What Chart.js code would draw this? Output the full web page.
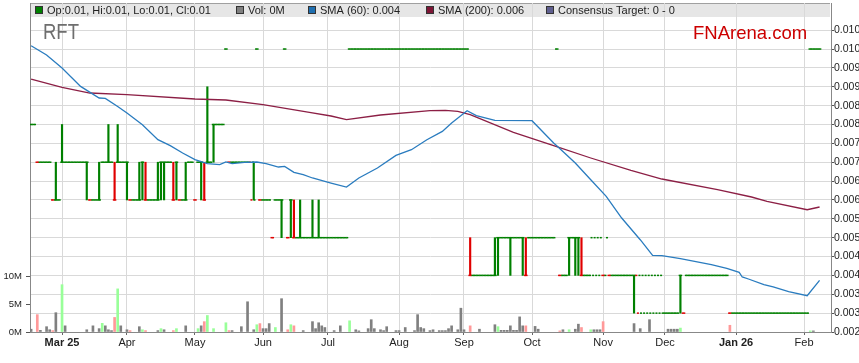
<!DOCTYPE html>
<html>
<head>
<meta charset="utf-8">
<script src="https://cdn.jsdelivr.net/npm/chart.js@4.4.1/dist/chart.umd.min.js"></script>
<style>
  html, body { margin: 0; padding: 0; background: #fff; overflow: hidden; }
  canvas { display: block; }
</style>
</head>
<body>
<canvas id="chart" width="880" height="363"></canvas>
<script>
// one slot per weekday, Mon 17 Feb 2025 .. Mon 9 Feb 2026
const monthIdx = [10, 31, 53, 75, 96, 119, 140, 162, 185, 205, 228, 250];
const monthLabels = ['Mar 25', 'Apr', 'May', 'Jun', 'Jul', 'Aug', 'Sep', 'Oct', 'Nov', 'Dec', 'Jan 26', 'Feb'];

const close = [
  0.008, 0.008, 0.007, 0.007, 0.007, 0.007, 0.007, 0.006, 0.006, 0.006,
  0.007, 0.007, 0.007, 0.007, 0.007, 0.007, 0.007, 0.007, 0.007, 0.006,
  0.006, 0.006, 0.006, 0.007, 0.007, 0.007, 0.007, 0.006, 0.007, 0.007,
  0.007, 0.007, 0.006, 0.006, 0.006, 0.006, 0.007, 0.006, 0.006, 0.006,
  0.006, 0.006, 0.007, 0.007, 0.007, 0.007, 0.006, 0.007, 0.006, 0.006,
  0.006, 0.007, 0.007, 0.006, 0.007, 0.007, 0.006, 0.007, 0.007, 0.008,
  0.008, 0.008, 0.008, 0.010, 0.007, 0.007, 0.007, 0.007, 0.007, 0.007,
  0.007, 0.006, 0.006, 0.010, 0.006, 0.006, 0.006, 0.006, 0.005, 0.006,
  0.006, 0.006, 0.010, 0.005, 0.006, 0.005, 0.005, 0.005, 0.005, 0.005,
  0.005, 0.005, 0.005, 0.005, 0.005, 0.005, 0.005, 0.005, 0.005, 0.005,
  0.005, 0.005, 0.005, 0.010, 0.010, 0.010, 0.010, 0.010, 0.010, 0.010,
  0.010, 0.010, 0.010, 0.010, 0.010, 0.010, 0.010, 0.010, 0.010, 0.010,
  0.010, 0.010, 0.010, 0.010, 0.010, 0.010, 0.010, 0.010, 0.010, 0.010,
  0.010, 0.010, 0.010, 0.010, 0.010, 0.010, 0.010, 0.010, 0.010, 0.010,
  0.010, 0.010, 0.004, 0.004, 0.004, 0.004, 0.004, 0.004, 0.004, 0.004,
  0.004, 0.005, 0.005, 0.005, 0.005, 0.005, 0.005, 0.005, 0.005, 0.005,
  0.004, 0.005, 0.005, 0.005, 0.005, 0.005, 0.005, 0.005, 0.005, 0.005,
  0.010, 0.004, 0.004, 0.004, 0.005, 0.005, 0.005, 0.005, 0.004, 0.004,
  0.004, 0.005, 0.005, 0.005, 0.005, 0.004, 0.005, 0.004, 0.004, 0.004,
  0.004, 0.004, 0.004, 0.004, 0.004, 0.004, 0.003, 0.003, 0.003, 0.003,
  0.003, 0.003, 0.003, 0.003, 0.003, 0.003, 0.003, 0.003, 0.003, 0.003,
  0.004, 0.003, 0.004, 0.004, 0.004, 0.004, 0.004, 0.004, 0.004, 0.004,
  0.004, 0.004, 0.004, 0.004, 0.004, 0.004, 0.003, 0.003, 0.003, 0.003,
  0.003, 0.003, 0.003, 0.003, 0.003, 0.003, 0.003, 0.003, 0.003, 0.003,
  0.003, 0.003, 0.003, 0.003, 0.003, 0.003, 0.003, 0.003, 0.003, 0.003,
  0.003, 0.003, 0.010, 0.010, 0.010, 0.010
];

// days whose open printed away from the close (all others opened at the close)
const openIdx = [71, 72, 181, 182, 183, 184, 186, 196, 197, 198, 199, 200, 201, 202, 203, 204];
const openVal = [0.007, 0.007, 0.004, 0.004, 0.004, 0.004, 0.004, 0.004, 0.004, 0.004, 0.004, 0.004, 0.004, 0.004, 0.004, 0.004];

// days that traded through more than one price
const rangeIdx = [8, 10, 18, 22, 25, 27, 28, 31, 35, 36, 37, 41, 42, 43, 46, 47, 50, 55, 56, 57,
  59, 72, 81, 84, 85, 87, 91, 93, 142, 150, 151, 155, 159, 160, 174, 176, 177, 178, 195, 210];
const rangeLow = [0.006, 0.007, 0.006, 0.006, 0.007, 0.006, 0.007, 0.006, 0.006, 0.006, 0.006, 0.006, 0.006, 0.006, 0.006, 0.006, 0.006, 0.006, 0.006, 0.007,
  0.007, 0.006, 0.005, 0.005, 0.005, 0.005, 0.005, 0.005, 0.004, 0.004, 0.004, 0.004, 0.004, 0.004, 0.004, 0.004, 0.004, 0.004, 0.003, 0.003];
const rangeHigh = [0.007, 0.008, 0.007, 0.007, 0.008, 0.007, 0.008, 0.007, 0.007, 0.007, 0.007, 0.007, 0.007, 0.007, 0.007, 0.007, 0.007, 0.007, 0.007, 0.009,
  0.008, 0.007, 0.006, 0.006, 0.006, 0.006, 0.006, 0.006, 0.005, 0.005, 0.005, 0.005, 0.005, 0.005, 0.005, 0.005, 0.005, 0.005, 0.004, 0.004];

// volume in millions, days with trades only
const volIdx = [0, 2, 3, 5, 6, 7, 8, 10, 11, 18, 20, 22, 23, 24, 25, 26, 27, 28, 29, 31,
  32, 35, 36, 37, 41, 42, 43, 46, 47, 50, 54, 55, 56, 57, 59, 63, 64, 65, 68, 70,
  72, 73, 74, 75, 76, 77, 79, 81, 83, 84, 85, 88, 91, 92, 93, 94, 95, 98, 100, 103,
  105, 106, 109, 110, 111, 113, 114, 115, 118, 119, 121, 124, 125, 126, 127, 129, 130, 132, 133, 134,
  135, 136, 138, 139, 140, 142, 145, 150, 151, 152, 153, 154, 155, 156, 157, 158, 159, 160, 163, 164,
  171, 172, 174, 176, 177, 178, 181, 182, 183, 184, 185, 195, 197, 200, 206, 207, 208, 209, 210, 226,
  252, 253];
const volM = [0.5, 3.1, 0.3, 0.95, 0.4, 0.25, 3.45, 8.45, 1.1, 0.4, 1.1, 0.6, 1.55, 1.1, 0.4, 0.25, 2.6, 7.7, 1.1, 0.4,
  0.25, 0.95, 0.4, 0.25, 0.25, 0.6, 0.4, 0.25, 0.6, 1.1, 0.6, 1.1, 1.85, 2.95, 0.6, 1.65, 0.25, 0.25, 0.95, 5.4,
  0.4, 1.3, 1.5, 0.6, 0.6, 1.5, 0.8, 5.95, 0.4, 1.3, 1.1, 0.25, 1.85, 0.6, 1.65, 1.1, 0.8, 0.25, 1.1, 2.0,
  0.4, 0.2, 0.6, 2.2, 0.6, 0.4, 0.25, 0.95, 0.25, 0.25, 0.8, 0.25, 3.1, 0.8, 0.6, 0.25, 0.4, 0.25, 0.25, 0.25,
  0.6, 1.1, 0.4, 4.25, 0.4, 1.1, 0.5, 1.3, 0.95, 0.3, 0.3, 0.3, 1.1, 0.3, 0.3, 2.7, 1.1, 1.1, 1.0, 0.5,
  0.2, 0.4, 0.4, 0.5, 1.4, 0.8, 0.4, 0.4, 0.4, 0.4, 1.85, 1.5, 0.6, 2.2, 0.5, 0.5, 0.5, 0.5, 0.7, 1.2,
  0.2, 0.2];

const sma60Idx = [0, 5, 10, 16, 22, 24, 28, 31, 36, 41, 45, 49, 53, 57, 61, 63, 65, 69, 73, 76,
  80, 82, 85, 88, 91, 97, 102, 106, 112, 118, 123, 128, 133, 136, 141, 144, 150, 162, 169, 170,
  176, 181, 186, 191, 197, 201, 204, 210, 220, 225, 229, 230, 232, 237, 240, 245, 251, 255];
const sma60 = [0.010088, 0.00984, 0.009497, 0.009009, 0.008702, 0.008691, 0.008479, 0.008304, 0.007994, 0.007597,
  0.007438, 0.007244, 0.007067, 0.006961, 0.006934, 0.007006, 0.006961, 0.006995, 0.007006, 0.006961,
  0.006873, 0.006889, 0.00673, 0.006669, 0.006582, 0.006449, 0.006343, 0.006582, 0.006847, 0.007181,
  0.007332, 0.007597, 0.007817, 0.008039, 0.008365, 0.008233, 0.008108, 0.0081, 0.007509, 0.007438,
  0.006979, 0.006537, 0.006094, 0.005521, 0.004946, 0.00453, 0.004522, 0.004443, 0.004284, 0.004186,
  0.00408, 0.003958, 0.003905, 0.003754, 0.003693, 0.003568, 0.003462, 0.003868];

const sma200Idx = [0, 10, 19, 31, 53, 63, 75, 90, 97, 102, 113, 129, 134, 138, 142, 156, 169, 181, 194, 204,
  222, 233, 238, 251, 255];
const sma200 = [0.009205, 0.008983, 0.008834, 0.008789, 0.008675, 0.008649, 0.008524, 0.00832, 0.008225, 0.008127,
  0.008251, 0.008365, 0.008373, 0.008347, 0.008259, 0.00779, 0.007438, 0.007112, 0.006783, 0.006555,
  0.006272, 0.006078, 0.005961, 0.005741, 0.005813];

const priceTicks = [0.0025, 0.003, 0.0035, 0.004, 0.0045, 0.005, 0.0055, 0.006, 0.0065,
  0.007, 0.0075, 0.008, 0.0085, 0.009, 0.0095, 0.010, 0.0105];
const volTicks = [0, 5, 10];

const FONT = '"Liberation Sans", Arial, sans-serif';
const GREEN = '#008000';
const RED = '#e00000';
const BLUE = '#2a7cbf';
const MAROON = '#8c1f45';

const last = close.length - 1;
const dayVol = close.map(() => 0);
volIdx.forEach((d, k) => { dayVol[d] = volM[k]; });
const open = close.slice();
openIdx.forEach((d, k) => { open[d] = openVal[k]; });
const move = close.map((c, i) => i === 0 ? 0 : Math.sign(Math.round((c - close[i - 1]) * 1e5)));
const barColor = move.map(m => m < 0 ? RED : GREEN);

const lastPx = close[last].toFixed(2);
const legendItems = [
  { x: 35, color: GREEN, text: `Op:${open[last].toFixed(2)}, Hi:${lastPx}, Lo:${lastPx}, Cl:${lastPx}` },
  { x: 236, color: '#808080', text: `Vol: ${Math.round(dayVol[last])}M` },
  { x: 308, color: '#1f6fb0', text: `SMA (60): ${sma60[sma60.length - 1].toFixed(3)}` },
  { x: 426, color: '#7d1535', text: `SMA (200): ${sma200[sma200.length - 1].toFixed(3)}` },
  { x: 546, color: '#5f5f8f', text: 'Consensus Target: 0 - 0' }
];

// keep the plot box fixed: no extra room reserved for edge labels
const noPad = (s) => { s.paddingTop = 0; s.paddingBottom = 0; s.paddingLeft = 0; s.paddingRight = 0; };

const frame = {
  id: 'frame',
  beforeDraw(chart) {
    const { ctx, chartArea: a } = chart;
    ctx.save();
    ctx.fillStyle = '#e6e6e6';
    ctx.fillRect(a.left, 3, 800, 14);
    ctx.fillStyle = '#a0a0a0';
    ctx.fillRect(a.left, 3, 800, 1);
    ctx.restore();
  },
  afterDraw(chart) {
    const ctx = chart.ctx;
    ctx.save();
    ctx.font = '11px ' + FONT;
    ctx.textBaseline = 'middle';
    legendItems.forEach(it => {
      ctx.fillStyle = it.color;
      ctx.fillRect(it.x, 6, 8, 8);
      ctx.strokeStyle = '#333';
      ctx.lineWidth = 1;
      ctx.strokeRect(it.x + 0.5, 6.5, 7, 7);
      ctx.fillStyle = '#222';
      ctx.fillText(it.text, it.x + 12, 10.5);
    });
    ctx.textBaseline = 'alphabetic';
    ctx.font = '22px ' + FONT;
    ctx.fillStyle = '#6e6e6e';
    ctx.translate(43, 39);
    ctx.scale(0.84, 1);
    ctx.fillText('RFT', 0, 0);
    ctx.setTransform(1, 0, 0, 1, 0, 0);
    ctx.font = '18.5px ' + FONT;
    ctx.fillStyle = '#cc0000';
    ctx.fillText('FNArena.com', 693, 39);
    ctx.restore();
  }
};

const tickStyle = {
  yAxisID: 'y',
  showLine: false,
  pointStyle: 'line',
  pointRadius: 1,
  pointHoverRadius: 1,
  pointBorderWidth: 1.5,
  pointBorderColor: barColor,
  order: 1,
};

Chart.defaults.font.family = FONT;
Chart.defaults.color = '#222';

new Chart(document.getElementById('chart'), {
  type: 'line',
  data: {
    datasets: [
      {
        label: 'SMA (60)',
        data: sma60Idx.map((d, k) => ({ x: d, y: sma60[k] })),
        yAxisID: 'y',
        borderColor: BLUE,
        borderWidth: 1.3,
        pointRadius: 0,
        order: 0,
      },
      {
        label: 'SMA (200)',
        data: sma200Idx.map((d, k) => ({ x: d, y: sma200[k] })),
        yAxisID: 'y',
        borderColor: MAROON,
        borderWidth: 1.3,
        pointRadius: 0,
        order: 0,
      },
      { label: 'Open', data: open.map((o, i) => ({ x: i - 0.25, y: o })), ...tickStyle },
      { label: 'Close', data: close.map((c, i) => ({ x: i + 0.25, y: c })), ...tickStyle },
      {
        type: 'bar',
        label: 'Range',
        data: rangeIdx.map((d, k) => ({ x: d, y: [rangeLow[k], rangeHigh[k]] })),
        yAxisID: 'y',
        grouped: false,
        barThickness: 1.5,
        backgroundColor: rangeIdx.map(d => barColor[d]),
        order: 2,
      },
      {
        type: 'bar',
        label: 'Vol',
        data: volIdx.map((d, k) => ({ x: d, y: volM[k] })),
        yAxisID: 'yv',
        grouped: false,
        barThickness: 2,
        backgroundColor: volIdx.map(d => move[d] > 0 ? '#99ff99' : move[d] < 0 ? '#ff9999' : '#808080'),
        order: 3,
      },
    ],
  },
  options: {
    responsive: false,
    animation: false,
    devicePixelRatio: 1,
    layout: { padding: { top: 3, left: 0, right: 0, bottom: 0 } },
    plugins: {
      legend: { display: false },
      tooltip: { enabled: false },
    },
    scales: {
      x: {
        type: 'linear',
        min: -0.36,
        max: 258.7,
        offset: false,
        afterBuildTicks: (s) => { s.ticks = monthIdx.map(v => ({ value: v })); },
        afterFit: (s) => { s.height = 31; noPad(s); },
        grid: { color: '#d9d9d9', tickLength: 3, tickColor: '#666', offset: false },
        border: { color: '#888' },
        ticks: {
          autoSkip: false,
          maxRotation: 0,
          padding: 1,
          color: '#222',
          font: (c) => ({ family: FONT, size: 11, weight: (monthLabels[c.index] || '').includes(' ') ? 'bold' : 'normal' }),
          callback: (v, i) => monthLabels[i],
        },
      },
      y: {
        position: 'right',
        min: 0.0025,
        max: 0.01122,
        afterBuildTicks: (s) => { s.ticks = priceTicks.map(v => ({ value: v })); },
        afterFit: (s) => { s.width = 49; noPad(s); },
        grid: { color: '#d9d9d9', tickLength: 3, tickColor: '#555' },
        border: { color: '#888' },
        ticks: {
          autoSkip: false,
          padding: 0,
          color: '#222',
          font: { family: FONT, size: 10.5 },
          callback: (v) => (Math.floor(v * 1000 + 1e-9) / 1000).toFixed(3),
        },
      },
      yv: {
        position: 'left',
        min: 0,
        max: 58.75,
        afterBuildTicks: (s) => { s.ticks = volTicks.map(v => ({ value: v })); },
        afterFit: (s) => { s.width = 30; noPad(s); },
        grid: { drawOnChartArea: false, tickLength: 4, tickColor: '#555' },
        border: { color: '#888' },
        ticks: {
          autoSkip: false,
          padding: 4,
          color: '#222',
          font: { family: FONT, size: 9.5 },
          callback: (v) => v + 'M',
        },
      },
    },
  },
  plugins: [frame],
});
</script>
</body>
</html>
